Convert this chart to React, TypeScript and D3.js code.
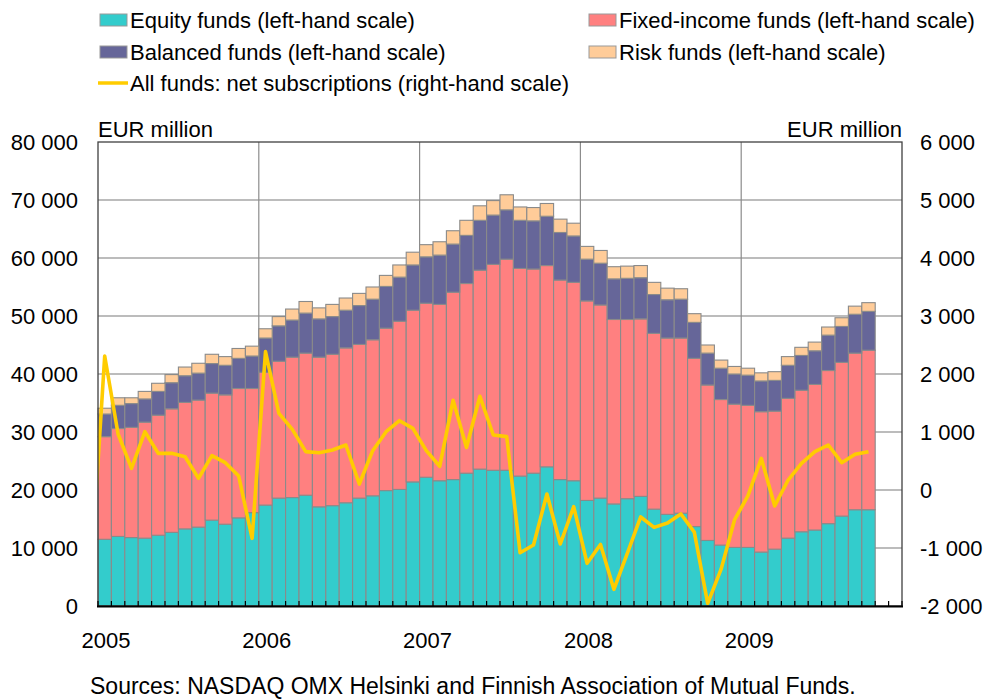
import React from "react";
import * as d3 from "d3";

// ---- Data (EUR million) ----
const months: string[] = [
  "2005-01","2005-02","2005-03","2005-04","2005-05","2005-06","2005-07","2005-08","2005-09","2005-10","2005-11","2005-12",
  "2006-01","2006-02","2006-03","2006-04","2006-05","2006-06","2006-07","2006-08","2006-09","2006-10","2006-11","2006-12",
  "2007-01","2007-02","2007-03","2007-04","2007-05","2007-06","2007-07","2007-08","2007-09","2007-10","2007-11","2007-12",
  "2008-01","2008-02","2008-03","2008-04","2008-05","2008-06","2008-07","2008-08","2008-09","2008-10","2008-11","2008-12",
  "2009-01","2009-02","2009-03","2009-04","2009-05","2009-06","2009-07","2009-08","2009-09","2009-10",
];
const axisMonths: string[] = [...months, "2009-11", "2009-12"];
const yearLabels: string[] = ["2005", "2006", "2007", "2008", "2009"];

const equityFunds: number[] = [
  11500,12000,11800,11700,12200,12700,13300,13600,14800,14100,15200,16100,
  17400,18600,18700,19100,17100,17300,17800,18600,19000,19900,20100,21400,
  22200,21600,21800,22900,23600,23400,23400,22400,22900,24000,21800,21600,
  18200,18600,17600,18500,18900,16700,15800,16000,13700,11300,10500,10100,
  10100,9300,9800,11700,12800,13100,14200,15500,16600,16600,
];
const fixedIncomeFunds: number[] = [
  17700,18600,19000,20000,20700,21300,21800,21900,21900,22300,22300,21400,
  22900,23600,24200,24500,25800,26100,26700,26500,26900,28000,29000,29600,
  30000,30400,32300,32700,34300,35500,36400,35800,35200,34700,34400,34200,
  34400,33300,31800,30900,30600,30300,30400,30200,29000,26800,25100,24700,
  24500,24200,23800,24100,24400,25100,26400,26500,27000,27500,
];
const balancedFunds: number[] = [
  3900,4000,4100,4000,4100,4500,4600,4650,5100,5100,5200,5600,
  5900,6100,6400,6900,6600,6500,6500,6700,7000,7200,7600,7800,
  8000,8500,8300,8300,8600,8500,8500,8300,8300,8500,8200,8000,
  7200,7200,7000,7100,7100,6700,6600,6700,6200,5500,5400,5200,
  5200,5300,5300,5700,6000,5800,6100,6200,6700,6700,
];
const riskFunds: number[] = [
  1000,1300,1000,1300,1400,1400,1500,1700,1600,1500,1700,1700,
  1600,1600,1900,2000,1900,2100,2100,2100,2100,1900,2100,2200,
  2100,2300,2300,2600,2500,2500,2600,2300,2300,2200,2300,2200,
  2200,2200,2100,2100,2100,2100,2000,1800,1500,1400,1400,1300,
  1200,1400,1500,1500,1400,1500,1400,1500,1400,1500,
];
// Net subscriptions, all funds (right-hand scale); previous month (Dec 2004) enters from the left edge
const netSubsDec2004 = -1350;
const netSubscriptions: number[] = [
  2310,966,374,1005,632,632,574,201,592,471,241,-833,
  2385,1322,1046,661,643,690,776,103,678,1005,1195,1063,
  680,408,1546,733,1615,948,920,-1081,-948,-69,-931,-287,
  -1264,-940,-1713,-1092,-465,-644,-570,-414,-727,-1954,-1365,-517,
  -100,546,-276,172,460,660,776,471,615,660,
];

const leftTicks: number[] = [0,10000,20000,30000,40000,50000,60000,70000,80000];
const rightTicks: number[] = [-2000,-1000,0,1000,2000,3000,4000,5000,6000];

const seriesNames = ["Equity funds", "Fixed-income funds", "Balanced funds", "Risk funds"];
const seriesColors = ["#33CCCC", "#FF8080", "#666699", "#FFCC99"];

const W = 989, H = 699;
const M = { left: 98, right: 902, top: 142, bottom: 606 };
const FONT = "'Liberation Sans', Arial, sans-serif";
const FS = 22;

const fmt = (v: number) => {
  const s = d3.format(",")(Math.abs(v)).replace(/,/g, "\u00a0");
  return (v < 0 ? "-" : "") + s;
};

export default function App() {
  const x = d3.scaleBand<string>().domain(axisMonths).range([M.left, M.right]).padding(0);
  const yL = d3.scaleLinear().domain([0, 80000]).range([M.bottom, M.top]);
  const yR = d3.scaleLinear().domain([-2000, 6000]).range([M.bottom, M.top]);
  const bw = x.bandwidth();

  const rows = months.map((m, i) => ({
    m,
    "Equity funds": equityFunds[i],
    "Fixed-income funds": fixedIncomeFunds[i],
    "Balanced funds": balancedFunds[i],
    "Risk funds": riskFunds[i],
  }));
  const stacked = d3.stack<any>().keys(seriesNames)(rows);

  const linePts: [number, number][] = [
    [(x(months[0]) as number) - bw / 2, yR(netSubsDec2004)],
    ...months.map((m, i) => [(x(m) as number) + bw / 2, yR(netSubscriptions[i])] as [number, number]),
  ];
  const lineGen = d3.line<[number, number]>().x((d) => d[0]).y((d) => d[1]);

  const yearStarts = yearLabels.map((y) => x(`${y}-01`) as number);

  const legendItems = [
    { label: "Equity funds (left-hand scale)", color: seriesColors[0], x: 100, y: 20, type: "rect" },
    { label: "Fixed-income funds (left-hand scale)", color: seriesColors[1], x: 589, y: 20, type: "rect" },
    { label: "Balanced funds (left-hand scale)", color: seriesColors[2], x: 100, y: 52, type: "rect" },
    { label: "Risk funds (left-hand scale)", color: seriesColors[3], x: 589, y: 52, type: "rect" },
    { label: "All funds: net subscriptions (right-hand scale)", color: "#FFCC00", x: 100, y: 83, type: "line" },
  ];

  return (
    <svg width={W} height={H} style={{ position: "absolute", left: 0, top: 0, background: "#fff", display: "block" }} fontFamily={FONT}>
      <defs>
        <clipPath id="plotClip">
          <rect x={M.left} y={M.top} width={M.right - M.left} height={M.bottom - M.top} />
        </clipPath>
      </defs>
      {/* legend */}
      {legendItems.map((it) => (
        <g key={it.label}>
          {it.type === "rect" ? (
            <rect x={it.x} y={it.y - 6} width={27} height={12} fill={it.color} stroke="#999" strokeWidth={1} />
          ) : (
            <line x1={it.x - 2} x2={it.x + 28} y1={it.y} y2={it.y} stroke={it.color} strokeWidth={3.5} />
          )}
          <text x={it.x + 30} y={it.y + 8} fontSize={FS} fill="#000">{it.label}</text>
        </g>
      ))}

      {/* gridlines */}
      {leftTicks.filter((t) => t > 0 && t < 80000).map((t) => (
        <line key={t} x1={M.left} x2={M.right} y1={yL(t)} y2={yL(t)} stroke="#A6A6A6" strokeWidth={1.3} />
      ))}
      {yearStarts.slice(1).map((xs, i) => (
        <line key={i} x1={xs} x2={xs} y1={M.top} y2={M.bottom} stroke="#8C8C8C" strokeWidth={1.2} />
      ))}

      {/* bars */}
      {stacked.map((s, si) => (
        <g key={s.key} fill={seriesColors[si]}>
          {s.map((d: any, i: number) => (
            <rect key={i} x={x(months[i])} y={yL(d[1])} width={bw} height={yL(d[0]) - yL(d[1])}
              stroke="#8A8A8A" strokeWidth={1.1} />
          ))}
        </g>
      ))}

      {/* line */}
      <path d={lineGen(linePts) || ""} fill="none" stroke="#FFCC00" strokeWidth={3.6}
        strokeLinejoin="round" clipPath="url(#plotClip)" />

      {/* frame */}
      <rect x={M.left} y={M.top} width={M.right - M.left} height={M.bottom - M.top} fill="none" stroke="#404040" strokeWidth={1.3} />
      <line x1={M.left - 1} x2={M.right + 1} y1={M.bottom + 0.5} y2={M.bottom + 0.5} stroke="#000" strokeWidth={2} />
      {axisMonths.map((m) => (
        <line key={m} x1={x(m)} x2={x(m)} y1={M.bottom} y2={M.bottom - 5} stroke="#000" strokeWidth={1.2} />
      ))}
      <line x1={M.right} x2={M.right} y1={M.bottom - 5} y2={M.bottom} stroke="#000" strokeWidth={1.2} />

      {/* left axis labels */}
      {leftTicks.map((t) => (
        <text key={t} x={78} y={yL(t) + 8} fontSize={FS} textAnchor="end" fill="#000">{fmt(t)}</text>
      ))}
      {/* right axis labels */}
      {rightTicks.map((t) => (
        <text key={t} x={920} y={yR(t) + 8} fontSize={FS} textAnchor="start" fill="#000">{fmt(t)}</text>
      ))}
      <text x={M.left} y={137} fontSize={FS} fill="#000">EUR million</text>
      <text x={M.right} y={137} fontSize={FS} textAnchor="end" fill="#000">EUR million</text>

      {/* year labels */}
      {yearLabels.map((y, i) => (
        <text key={y} x={yearStarts[i] + 8} y={648} fontSize={FS} textAnchor="middle" fill="#000">{y}</text>
      ))}

      <text x={90} y={694} fontSize={23} fill="#000">Sources: NASDAQ OMX Helsinki and Finnish Association of Mutual Funds.</text>
    </svg>
  );
}
